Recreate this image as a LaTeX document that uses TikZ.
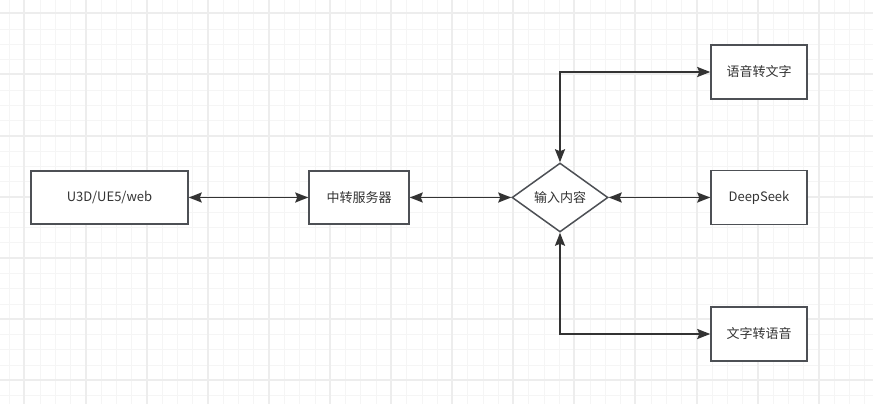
\documentclass[tikz,border=0pt]{standalone}
\usepackage{fontspec}
\setmainfont{Noto Sans CJK SC}
\usetikzlibrary{arrows.meta,positioning,shapes.geometric}
\definecolor{gridmajor}{HTML}{EDEDED}
\definecolor{gridminor}{HTML}{F5F5F5}
\definecolor{ink}{HTML}{333333}
\definecolor{edge}{HTML}{4D5055}

\begin{document}
\begin{tikzpicture}[x=1pt,y=-1pt,
  box/.style={draw=edge,line width=1.5pt,fill=white,inner sep=0pt,
              minimum height=53pt,font=\fontsize{13}{15}\selectfont,text=ink},
  choice/.style={diamond,draw=edge,line width=1.5pt,fill=white,inner sep=0pt,
              minimum width=96pt,minimum height=69pt,font=\fontsize{13}{15}\selectfont,text=ink},
  link/.style={draw=ink,line width=1.8pt,
              {Stealth[length=13pt,width=10pt,inset=2pt]}-{Stealth[length=13pt,width=10pt,inset=2pt]}}]
  \useasboundingbox (0,0) rectangle (873,404);
  \fill[white] (0,0) rectangle (873,404);
  % background grid
  \foreach \i in {0,...,57}
    \draw[gridminor,line width=1pt] ({round(9.1+\i*15.275)+0.5},0) -- ++(0,404);
  \foreach \j in {0,...,27}
    \draw[gridminor,line width=1pt] (0,{round(-1.975+\j*15.275)+0.5}) -- ++(873,0);
  \foreach \i in {0,...,14}
    \draw[gridmajor,line width=2pt] ({round(24.4+\i*61.1)},0) -- ++(0,404);
  \foreach \j in {0,...,6}
    \draw[gridmajor,line width=2pt] (0,{round(13.3+\j*61.1)}) -- ++(873,0);

  \node[box,minimum width=157pt] (client) at (109.5,197.5) {U3D/UE5/web};
  \node[box,minimum width=100pt] (relay) at (359,197.5) {中转服务器};
  \node[choice] (input) at (560,197.5) {输入内容};
  \node[box,minimum width=96pt,minimum height=54pt] (asr) at (759,72) {语音转文字};
  \node[box,minimum width=96pt,minimum height=54pt] (llm) at (759,197.5) {DeepSeek};
  \node[box,minimum width=96pt,minimum height=54pt] (tts) at (759,334) {文字转语音};

  \draw[link] (client) -- (relay);
  \draw[link] (relay) -- (input);
  \draw[link] (input) -- (llm);
  \draw[link] (input.north) |- (asr);
  \draw[link] (input.south) |- (tts);
\end{tikzpicture}
\end{document}
